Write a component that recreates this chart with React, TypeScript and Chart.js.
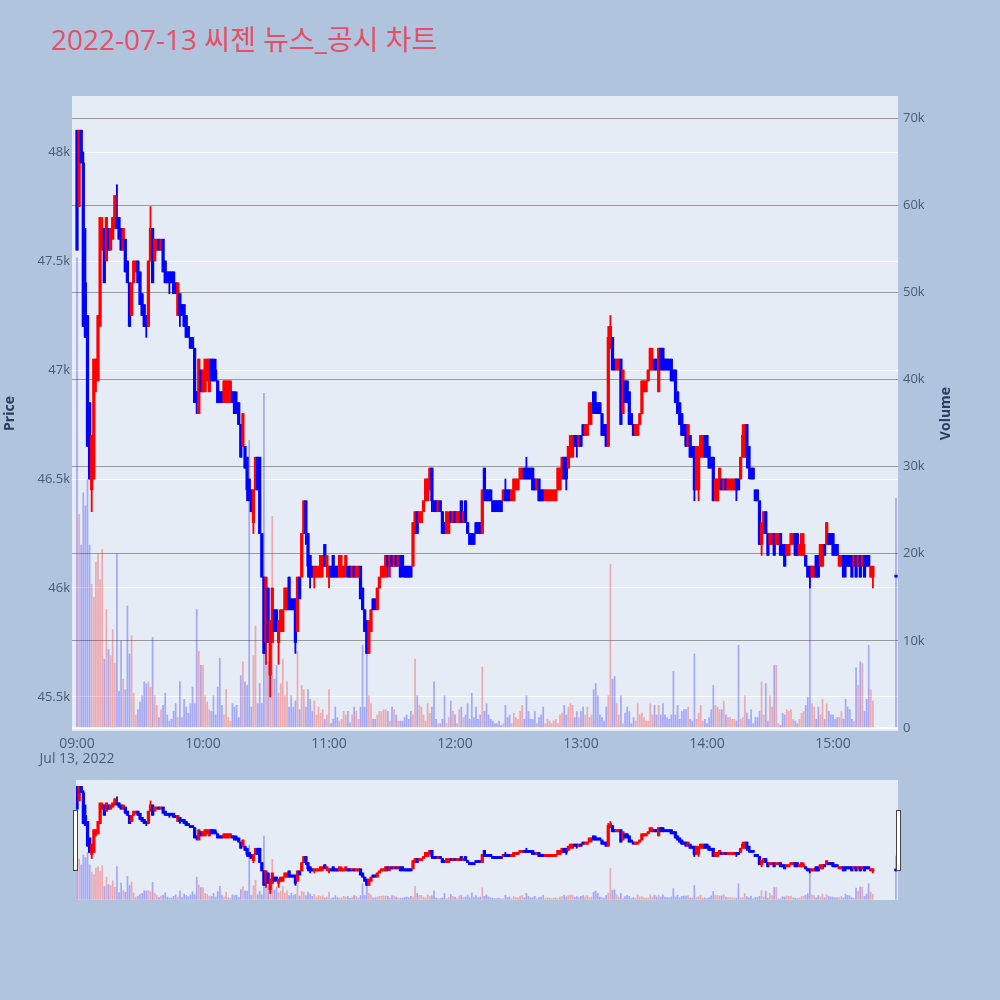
import React, { useEffect, useRef } from "react";
import { Chart, registerables } from "chart.js";

Chart.register(...registerables);

const TITLE = "2022-07-13 씨젠 뉴스_공시 차트";
const SESSION_DATE = "Jul 13, 2022";

// minute bars after 09:00 (09:00-15:19 continuous session, 15:30 closing auction)
const minuteOffsets = [...Array.from({ length: 380 }, (_, i) => i), 390];

const opens = [
  48100,47750,48100,47950,47400,47250,46850,46450,46500,47000,
  46950,47200,47550,47650,47500,47650,47550,47600,47650,47700,
  47700,47650,47550,47600,47500,47400,47250,47400,47450,47500,
  47450,47350,47300,47250,47200,47500,47650,47500,47550,47600,
  47550,47600,47500,47450,47450,47450,47450,47400,47250,47350,
  47300,47300,47250,47200,47150,47150,47100,46900,46800,47000,
  46900,46900,46950,46900,47050,47050,47000,46950,46900,46900,
  46850,46850,46850,46900,46900,46900,46850,46850,46750,46650,
  46650,46600,46500,46450,46300,46450,46600,46600,46250,46050,
  45750,46000,45600,45750,45900,45900,45750,45800,45800,45900,
  45900,46050,45950,45950,45950,45800,46050,46050,46250,46400,
  46250,46150,46100,46050,46050,46050,46050,46100,46200,46100,
  46050,46100,46150,46100,46100,46050,46050,46050,46100,46100,
  46100,46050,46100,46050,46050,46100,46000,45900,45850,45700,
  45800,45950,45950,45900,46000,46050,46050,46050,46150,46100,
  46150,46100,46150,46100,46150,46150,46100,46100,46100,46100,
  46100,46250,46350,46300,46300,46350,46400,46400,46450,46550,
  46400,46400,46350,46400,46350,46300,46250,46250,46350,46300,
  46350,46300,46300,46400,46300,46400,46300,46250,46250,46250,
  46300,46300,46300,46250,46550,46450,46450,46450,46400,46400,
  46400,46400,46400,46400,46450,46450,46450,46400,46400,46450,
  46450,46500,46500,46550,46550,46550,46550,46550,46500,46450,
  46500,46450,46450,46400,46400,46400,46400,46400,46400,46450,
  46450,46500,46600,46600,46550,46600,46600,46700,46700,46650,
  46700,46750,46700,46700,46750,46800,46900,46850,46850,46850,
  46800,46750,46750,46650,47100,47150,47050,47000,47000,47050,
  46800,46950,46950,46900,46800,46750,46700,46700,46750,46800,
  46900,46900,46950,47000,47000,47050,47050,46900,47100,47100,
  47050,47050,47050,47050,47000,47000,46900,46850,46800,46750,
  46750,46650,46700,46650,46650,46450,46450,46600,46600,46700,
  46700,46650,46600,46600,46400,46400,46450,46500,46450,46500,
  46450,46450,46450,46450,46500,46500,46500,46600,46600,46750,
  46650,46550,46550,46450,46450,46400,46200,46250,46350,46250,
  46200,46200,46250,46200,46200,46250,46200,46200,46150,46150,
  46200,46200,46250,46250,46150,46150,46150,46150,46100,46100,
  46050,46050,46150,46150,46100,46100,46200,46200,46250,46250,
  46250,46200,46200,46100,46100,46150,46150,46150,46150,46150,
  46100,46150,46100,46150,46100,46150,46150,46150,46050,46050,
  46050,
];

const highs = [
  48100,48100,48100,48000,47650,47250,46850,46700,47050,47050,
  47250,47700,47700,47650,47700,47650,47650,47700,47800,47850,
  47700,47650,47650,47600,47500,47400,47400,47500,47500,47500,
  47450,47350,47300,47250,47500,47750,47650,47600,47600,47600,
  47600,47600,47500,47450,47450,47450,47450,47400,47400,47350,
  47300,47300,47250,47200,47150,47150,47100,46900,47050,47000,
  47000,47050,47050,47050,47050,47050,47050,46950,46900,46900,
  46950,46950,46950,46950,46900,46900,46900,46850,46750,46800,
  46650,46600,46500,46450,46450,46600,46600,46600,46250,46050,
  46050,46000,45850,46000,45900,45900,45850,45900,45900,46000,
  46000,46050,45950,45950,45950,46050,46050,46250,46400,46400,
  46250,46150,46100,46100,46100,46100,46150,46150,46200,46150,
  46100,46100,46150,46100,46100,46150,46150,46100,46150,46100,
  46100,46100,46100,46100,46100,46100,46000,45900,45850,45850,
  45900,45950,45950,46000,46050,46100,46100,46150,46150,46150,
  46150,46150,46150,46150,46150,46150,46100,46100,46100,46100,
  46300,46350,46350,46350,46350,46400,46500,46500,46550,46550,
  46400,46400,46400,46400,46350,46300,46350,46350,46350,46350,
  46350,46350,46350,46400,46350,46400,46300,46250,46250,46250,
  46300,46300,46300,46450,46550,46450,46450,46450,46400,46400,
  46400,46400,46400,46450,46500,46450,46450,46450,46500,46500,
  46500,46550,46550,46550,46600,46550,46550,46550,46500,46500,
  46500,46450,46450,46450,46450,46450,46450,46450,46450,46550,
  46550,46600,46600,46600,46650,46700,46700,46700,46700,46700,
  46700,46750,46750,46750,46850,46850,46900,46900,46850,46850,
  46800,46750,46750,47200,47250,47150,47050,47050,47050,47050,
  47000,46950,46950,46900,46800,46750,46750,46750,46800,46950,
  46950,46950,47000,47100,47100,47050,47050,47100,47100,47100,
  47050,47050,47050,47050,47000,47000,46900,46850,46800,46750,
  46750,46750,46700,46650,46650,46650,46650,46700,46700,46700,
  46700,46650,46600,46600,46500,46500,46550,46500,46500,46500,
  46500,46500,46500,46500,46500,46500,46600,46750,46750,46750,
  46650,46550,46550,46450,46450,46400,46300,46350,46350,46250,
  46250,46250,46250,46250,46250,46250,46200,46200,46200,46200,
  46250,46250,46250,46250,46200,46250,46250,46150,46100,46100,
  46100,46100,46150,46150,46200,46200,46200,46300,46250,46250,
  46250,46200,46200,46150,46150,46150,46150,46150,46150,46150,
  46150,46150,46150,46150,46150,46150,46150,46150,46100,46100,
  46050,
];

const lows = [
  47550,47750,47950,47200,47150,46650,46500,46350,46500,46900,
  46950,47200,47550,47400,47500,47550,47550,47600,47650,47650,
  47600,47550,47550,47450,47400,47200,47250,47400,47450,47400,
  47300,47250,47200,47150,47200,47500,47400,47500,47550,47550,
  47550,47450,47400,47400,47350,47400,47350,47350,47250,47200,
  47250,47200,47150,47150,47100,47100,46850,46800,46800,46900,
  46900,46900,46950,46900,46950,46950,46950,46850,46850,46850,
  46850,46850,46850,46850,46850,46800,46800,46750,46600,46650,
  46550,46400,46400,46350,46250,46450,46450,46250,46050,45700,
  45650,45750,45500,45750,45800,45800,45650,45800,45800,45900,
  45900,45900,45900,45900,45700,45800,45950,46050,46250,46200,
  46050,46000,46050,46000,46050,46050,46050,46050,46100,46050,
  46000,46050,46050,46050,46050,46050,46050,46050,46050,46050,
  46050,46050,46050,46050,46050,45950,45900,45800,45700,45700,
  45800,45900,45900,45900,46000,46050,46050,46050,46050,46050,
  46100,46100,46100,46100,46050,46050,46050,46050,46050,46050,
  46100,46250,46250,46300,46300,46350,46400,46400,46450,46350,
  46350,46350,46350,46350,46250,46250,46250,46250,46300,46300,
  46300,46300,46300,46300,46300,46300,46250,46200,46200,46200,
  46250,46250,46250,46250,46400,46400,46400,46400,46350,46350,
  46350,46350,46350,46400,46400,46400,46400,46400,46400,46450,
  46450,46500,46500,46500,46500,46500,46500,46450,46450,46450,
  46400,46400,46400,46400,46400,46400,46400,46400,46400,46450,
  46450,46500,46500,46450,46550,46600,46600,46650,46600,46650,
  46650,46700,46700,46700,46750,46750,46800,46800,46800,46800,
  46700,46700,46650,46650,47100,47000,47000,47000,47000,46750,
  46800,46850,46850,46750,46750,46700,46700,46700,46750,46800,
  46900,46900,46950,47000,47000,47000,47000,46900,47000,47000,
  47000,47000,47000,46950,46950,46850,46800,46750,46700,46700,
  46650,46650,46600,46600,46400,46450,46400,46600,46600,46600,
  46600,46550,46550,46400,46400,46400,46450,46450,46450,46450,
  46450,46450,46450,46450,46400,46450,46500,46600,46600,46550,
  46500,46500,46500,46400,46400,46200,46150,46250,46250,46150,
  46200,46200,46150,46200,46200,46150,46150,46100,46150,46150,
  46200,46200,46150,46150,46150,46150,46150,46100,46050,46000,
  46050,46050,46050,46050,46100,46100,46150,46200,46200,46200,
  46150,46150,46150,46100,46100,46050,46050,46100,46100,46050,
  46100,46050,46100,46050,46100,46050,46100,46100,46050,46000,
  46050,
];

const closes = [
  47550,48100,47950,47200,47150,46650,46500,46700,47050,47050,
  47250,47700,47650,47400,47700,47550,47650,47700,47800,47650,
  47600,47550,47650,47450,47400,47200,47400,47500,47500,47400,
  47300,47250,47200,47200,47500,47650,47400,47600,47600,47550,
  47600,47450,47400,47400,47400,47400,47350,47350,47400,47250,
  47250,47200,47150,47150,47100,47100,46850,46850,47050,46900,
  47000,47050,47050,47050,46950,46950,46950,46850,46850,46850,
  46950,46950,46950,46950,46850,46800,46800,46750,46600,46800,
  46550,46450,46400,46350,46450,46600,46450,46250,46050,45700,
  46050,45750,45850,46000,45800,45850,45850,45900,45900,46000,
  46000,45900,45900,45900,45750,46050,45950,46250,46400,46250,
  46100,46050,46050,46100,46100,46100,46150,46150,46100,46150,
  46100,46050,46050,46050,46050,46150,46100,46100,46150,46050,
  46050,46100,46050,46100,46100,45950,45900,45800,45700,45850,
  45900,45900,45900,46000,46050,46100,46100,46150,46100,46150,
  46100,46150,46100,46150,46050,46100,46050,46050,46050,46050,
  46300,46350,46250,46350,46350,46400,46500,46500,46550,46400,
  46350,46350,46400,46350,46250,46250,46350,46300,46300,46350,
  46300,46350,46350,46300,46350,46300,46250,46200,46200,46200,
  46250,46250,46250,46450,46400,46400,46400,46400,46350,46350,
  46350,46350,46350,46450,46400,46400,46400,46450,46500,46500,
  46500,46550,46550,46500,46500,46500,46500,46450,46450,46500,
  46400,46400,46400,46450,46450,46450,46450,46450,46450,46550,
  46550,46600,46500,46500,46650,46700,46700,46650,46650,46700,
  46650,46700,46750,46750,46850,46850,46800,46800,46800,46800,
  46700,46700,46650,47150,47200,47000,47000,47050,47050,46750,
  47000,46850,46850,46750,46750,46700,46750,46750,46800,46950,
  46950,46950,47000,47100,47050,47000,47000,47100,47000,47000,
  47000,47000,47000,46950,46950,46850,46800,46750,46700,46700,
  46650,46750,46600,46600,46450,46650,46600,46700,46700,46600,
  46600,46550,46550,46400,46500,46500,46550,46450,46500,46450,
  46500,46500,46500,46500,46450,46450,46600,46700,46750,46600,
  46550,46500,46500,46400,46400,46200,46300,46350,46250,46150,
  46250,46250,46150,46250,46250,46150,46150,46100,46200,46200,
  46250,46250,46150,46150,46200,46250,46200,46100,46050,46050,
  46100,46100,46050,46050,46200,46200,46150,46300,46200,46200,
  46150,46150,46150,46150,46150,46050,46100,46100,46100,46050,
  46150,46050,46150,46050,46150,46050,46100,46100,46100,46100,
  46050,
];

const volumes = [
  54000,24500,21000,27000,25500,28500,21000,16500,15000,19000,
  20000,17000,20500,7900,13600,9000,8300,11300,7400,20000,
  4200,10000,5600,4400,14000,8500,10600,4000,1500,2100,
  3000,3700,5300,5100,5300,4700,10400,3700,2600,1200,
  2100,2600,4000,1500,800,1000,1900,2800,1200,5300,
  1200,3300,2400,1700,2800,4700,2800,13600,8800,7200,
  7200,3700,3000,2100,1900,3700,1500,4700,8000,2600,
  1500,4400,1200,800,2800,2400,2600,1200,6000,7600,
  5300,4900,33000,2400,8300,11700,2800,5100,2800,38400,
  10400,7600,8300,24300,5600,7200,4000,5100,7900,3700,
  5300,2400,3700,2400,3100,8800,2100,4900,4400,2400,
  4400,3300,1900,3100,1500,2400,1700,2100,1000,1500,
  4400,500,1000,2400,1200,800,1000,1900,1500,1900,
  600,1500,2400,1900,1000,2400,9500,2400,9200,3700,
  2800,1000,1000,1500,1900,1900,2100,2100,1900,800,
  2400,2100,1500,800,800,800,1200,1500,1000,1900,
  1500,7900,3700,2600,2400,1500,800,2800,1700,2400,
  5300,1000,500,500,1000,3700,500,1200,3100,1900,
  1500,500,2100,2400,1200,1500,2800,1000,4000,1200,
  2400,1000,1500,7000,1900,2800,1500,1000,800,500,
  500,800,300,500,2600,1200,1500,500,1700,1200,
  1000,1900,2600,1000,3700,1900,1000,1000,1900,500,
  1200,1500,2400,500,1000,800,500,800,1000,500,
  1500,1700,2600,1500,2400,2800,2600,1200,1900,1200,
  1900,2400,1500,2400,1200,1500,4400,5100,3700,1500,
  1200,800,2400,3700,18800,5600,5900,2800,1500,3700,
  500,1700,2400,1900,500,1200,800,2800,1500,1700,
  1200,800,800,2800,1500,2600,1500,2600,1500,2800,
  1500,1200,1000,1500,6500,1500,2600,1000,1900,2100,
  2100,2400,1000,800,8500,1000,1700,2600,800,1000,
  500,1200,2100,4900,2600,2400,2100,2100,3100,1500,
  1200,1200,1000,1000,800,9500,1000,1200,3700,1700,
  1000,2100,500,1200,1200,1900,5300,1500,5100,800,
  3700,2400,7200,7200,500,300,1700,1500,2100,1900,
  2100,1000,800,500,1000,1700,1900,2600,3500,17600,
  2800,2400,1000,2400,1500,3300,1000,2800,1900,1500,
  1500,1000,1200,1200,1900,1000,3300,2400,2100,1000,
  800,6900,4900,7600,7400,1900,3300,9500,4400,3100,
  26400,
];

const timeTicks = [0, 60, 120, 180, 240, 300, 360];
const timeTickLabels = ["09:00", "10:00", "11:00", "12:00", "13:00", "14:00", "15:00"];
const priceTicks = [45500, 46000, 46500, 47000, 47500, 48000];
const volumeTicks = [0, 10000, 20000, 30000, 40000, 50000, 60000, 70000];

const PRICE_RANGE = [45344, 48257];
const VOLUME_RANGE = [-344, 72530];

const UP = "#FF0000";
const DOWN = "#0000FF";
const UP_VOL = "rgba(255,0,0,0.28)";
const DOWN_VOL = "rgba(0,0,255,0.28)";
const TEXT = "#2a3f5f";
const TICK_TEXT = "#4a5b73";
const FONT = "'Open Sans', 'Noto Sans CJK KR', sans-serif";

const isUp = closes.map((c, i) => c > opens[i]);

function buildDatasets() {
  return [
    {
      type: "bar" as const,
      label: "Volume",
      yAxisID: "yv",
      data: minuteOffsets.map((m, i) => ({ x: m, y: volumes[i] })),
      backgroundColor: isUp.map((u) => (u ? UP_VOL : DOWN_VOL)),
      barThickness: 1.1,
      grouped: false,
      order: 3,
    },
    {
      type: "bar" as const,
      label: "Wick",
      yAxisID: "y",
      data: minuteOffsets.map((m, i) => ({ x: m, y: [lows[i], highs[i]] })),
      backgroundColor: isUp.map((u) => (u ? UP : DOWN)),
      barThickness: 1.2,
      minBarLength: 1,
      grouped: false,
      order: 2,
    },
    {
      type: "bar" as const,
      label: "Body",
      yAxisID: "y",
      data: minuteOffsets.map((m, i) => ({
        x: m,
        y: [Math.min(opens[i], closes[i]), Math.max(opens[i], closes[i])],
      })),
      backgroundColor: isUp.map((u) => (u ? UP : DOWN)),
      barThickness: 2.6,
      minBarLength: 2,
      grouped: false,
      order: 1,
    },
  ];
}

const plotBg = {
  id: "plotBg",
  beforeDraw(chart: any) {
    const { ctx, chartArea } = chart;
    ctx.save();
    ctx.fillStyle = "#E5ECF6";
    ctx.fillRect(chartArea.left, chartArea.top, chartArea.right - chartArea.left, chartArea.bottom - chartArea.top);
    ctx.restore();
  },
};

const volumeTitle = {
  id: "volumeTitle",
  afterDraw(chart: any) {
    const { ctx, chartArea } = chart;
    ctx.save();
    ctx.translate(946, (chartArea.top + chartArea.bottom) / 2);
    ctx.rotate(-Math.PI / 2);
    ctx.fillStyle = TEXT;
    ctx.font = `bold 14px ${FONT}`;
    ctx.textAlign = "center";
    ctx.textBaseline = "middle";
    ctx.fillText("Volume", 0, 0);
    ctx.restore();
  },
};

const sliderHandles = {
  id: "sliderHandles",
  afterDraw(chart: any) {
    const { ctx, chartArea } = chart;
    ctx.save();
    ctx.fillStyle = "#ffffff";
    ctx.strokeStyle = "#444444";
    ctx.lineWidth = 1;
    const h = 60;
    const y = chartArea.top + 30.5;
    [chartArea.left - 2.5, chartArea.right - 1.5].forEach((x) => {
      ctx.fillRect(x, y, 4, h);
      ctx.strokeRect(x, y, 4, h);
    });
    ctx.restore();
  },
};

function fmtK(v: number) {
  if (v === 0) return "0";
  return `${v / 1000}k`;
}

export default function App() {
  const mainRef = useRef<HTMLCanvasElement>(null);
  const sliderRef = useRef<HTMLCanvasElement>(null);

  useEffect(() => {
    Chart.defaults.font.family = FONT;
    const main = new Chart(mainRef.current as HTMLCanvasElement, {
      type: "bar",
      data: { datasets: buildDatasets() as any },
      plugins: [plotBg, volumeTitle],
      options: {
        animation: false,
        responsive: false,
        maintainAspectRatio: false,
        layout: { padding: { top: 96, left: 0, right: 0, bottom: 0 }, autoPadding: false } as any,
        plugins: { legend: { display: false }, tooltip: { enabled: false }, title: { display: false } },
        scales: {
          x: {
            type: "linear",
            min: -2.38,
            max: 390.95,
            offset: false,
            grid: { display: false },
            border: { display: false },
            afterBuildTicks: (ax: any) => {
              ax.ticks = timeTicks.map((v) => ({ value: v }));
            },
            afterFit: (ax: any) => {
              ax.height = 49;
            },
            ticks: {
              autoSkip: false,
              maxRotation: 0,
              padding: -2,
              color: TICK_TEXT,
              font: { size: 14, lineHeight: 1.05 },
              callback: (value: any) => {
                const idx = timeTicks.indexOf(Number(value));
                const label = timeTickLabels[idx];
                return idx === 0 ? [label, SESSION_DATE] : label;
              },
            },
          },
          y: {
            position: "left",
            min: PRICE_RANGE[0],
            max: PRICE_RANGE[1],
            afterBuildTicks: (ax: any) => {
              ax.ticks = priceTicks.map((v) => ({ value: v }));
            },
            afterFit: (ax: any) => {
              ax.width = 72;
            },
            grid: { color: "#ffffff", lineWidth: 1, drawTicks: false },
            border: { display: false },
            ticks: { padding: 2, color: TICK_TEXT, font: { size: 13 }, callback: (v: any) => fmtK(Number(v)) },
            title: {
              display: true,
              text: "Price",
              color: TEXT,
              font: { size: 14, weight: "bold" },
              padding: { top: 2, bottom: 0 },
            },
          },
          yv: {
            position: "right",
            min: VOLUME_RANGE[0],
            max: VOLUME_RANGE[1],
            afterBuildTicks: (ax: any) => {
              ax.ticks = volumeTicks.map((v) => ({ value: v }));
            },
            afterFit: (ax: any) => {
              ax.width = 102;
            },
            grid: {
              drawTicks: false,
              color: (ctx: any) => (ctx.tick && ctx.tick.value === 0 ? "#ffffff" : "#9a9a9a"),
              lineWidth: (ctx: any) => (ctx.tick && ctx.tick.value === 0 ? 2 : 1),
            },
            border: { display: false },
            ticks: { padding: 5, color: TICK_TEXT, font: { size: 13 }, callback: (v: any) => fmtK(Number(v)) },
          },
        },
      } as any,
    });

    const slider = new Chart(sliderRef.current as HTMLCanvasElement, {
      type: "bar",
      data: { datasets: buildDatasets() as any },
      plugins: [plotBg, sliderHandles],
      options: {
        animation: false,
        responsive: false,
        maintainAspectRatio: false,
        layout: { padding: { top: 0, left: 76, right: 102, bottom: 0 }, autoPadding: false } as any,
        plugins: { legend: { display: false }, tooltip: { enabled: false } },
        scales: {
          x: { type: "linear", min: -0.5, max: 391, offset: false, display: false },
          y: { min: PRICE_RANGE[0], max: PRICE_RANGE[1], display: false },
          yv: { position: "right", min: VOLUME_RANGE[0], max: VOLUME_RANGE[1], display: false },
        },
      } as any,
    });

    return () => {
      main.destroy();
      slider.destroy();
    };
  }, []);

  return (
    <div style={{ position: "fixed", left: 0, top: 0, width: 1000, height: 1000, background: "#B0C4DE", overflow: "hidden" }}>
      <div
        style={{
          position: "absolute",
          left: 51,
          top: 25,
          fontSize: 28,
          lineHeight: "28px",
          color: "#E84F66",
          fontFamily: FONT,
          whiteSpace: "nowrap",
        }}
      >
        {TITLE}
      </div>
      <canvas ref={mainRef} width={1000} height={780} style={{ position: "absolute", left: 0, top: 0, width: 1000, height: 780 }} />
      <canvas ref={sliderRef} width={1000} height={120} style={{ position: "absolute", left: 0, top: 780, width: 1000, height: 120 }} />
    </div>
  );
}
